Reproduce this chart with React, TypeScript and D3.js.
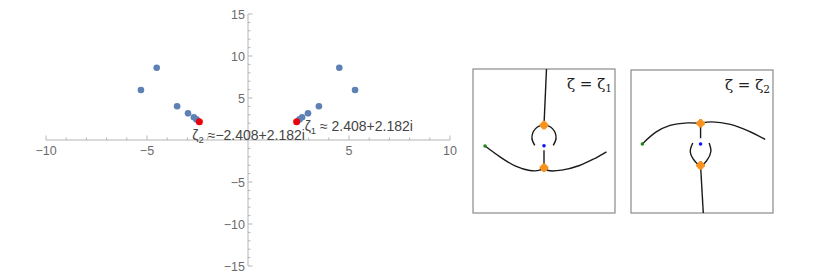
import React from 'react';
import * as d3 from 'd3';

// main plane: roots in the complex plane (right half, mirrored for the left)
const rootRe = [2.55, 2.68, 2.97, 3.51, 4.52, 5.3];
const rootIm = [2.45, 2.7, 3.17, 4.02, 8.6, 5.95];
const zeta1 = { re: 2.408, im: 2.182 };
const zeta2 = { re: -2.408, im: 2.182 };

const xMajor = [-10, -5, 5, 10];
const yMajor = [-15, -10, -5, 5, 10, 15];

// inset sketches, local coords in [-1, 1]
type Pt = [number, number];
const inset1Curves: Pt[][] = [
  [[0.035, 1.0], [0.0, 0.22]],
  [[-0.13, -0.06], [-0.17, 0.04], [-0.125, 0.165], [0.0, 0.22], [0.125, 0.165], [0.17, 0.04], [0.13, -0.06]],
  [[0.0, -0.13], [0.0, -0.37]],
  [[-0.83, -0.07], [-0.62, -0.22], [-0.4, -0.35], [-0.2, -0.41], [-0.06, -0.405], [0.0, -0.37]],
  [[0.0, -0.37], [0.06, -0.41], [0.25, -0.405], [0.5, -0.34], [0.7, -0.25], [0.88, -0.15]],
];
const inset1Cusps: Pt[] = [[0.0, 0.22], [0.0, -0.37]];
const inset1Blue: Pt = [0.0, -0.065];
const inset1Green: Pt = [-0.83, -0.07];

const inset2Curves: Pt[][] = [
  [[-0.84, -0.035], [-0.65, 0.13], [-0.45, 0.225], [-0.2, 0.26], [-0.02, 0.255]],
  [[-0.02, 0.255], [0.14, 0.275], [0.4, 0.24], [0.65, 0.15], [0.89, 0.03]],
  [[-0.02, 0.255], [-0.02, 0.045]],
  [[-0.13, -0.02], [-0.165, -0.14], [-0.105, -0.27], [-0.02, -0.335], [0.065, -0.27], [0.125, -0.14], [0.1, -0.02]],
  [[-0.02, -0.335], [0.018, -1.0]],
];
const inset2Cusps: Pt[] = [[-0.02, 0.255], [-0.02, -0.335]];
const inset2Blue: Pt = [-0.02, -0.035];
const inset2Green: Pt = [-0.84, -0.035];

const axisGray = '#b5b5b5';
const tickText = '#6b6b6b';
const blue = '#5e81b5';

const Inset: React.FC<{
  x0: number; y0: number; w: number; h: number;
  curves: Pt[][]; cusps: Pt[]; blueDot: Pt; greenDot: Pt; sub: string;
}> = ({ x0, y0, w, h, curves, cusps, blueDot, greenDot, sub }) => {
  const sx = d3.scaleLinear().domain([-1, 1]).range([x0, x0 + w]);
  const sy = d3.scaleLinear().domain([-1, 1]).range([y0 + h, y0]);
  const line = d3.line<Pt>().x(d => sx(d[0])).y(d => sy(d[1])).curve(d3.curveCatmullRom.alpha(0.5));
  const cross = d3.symbol().type(d3.symbolCross).size(42)();
  return (
    <g>
      <rect x={x0} y={y0} width={w} height={h} fill="white" stroke="#8a8a8a" strokeWidth={1.2} />
      {curves.map((c, i) => (
        <path key={i} d={line(c) || ''} fill="none" stroke="#1a1a1a" strokeWidth={1.4} />
      ))}
      {cusps.map((p, i) => (
        <g key={i}>
          <circle cx={sx(p[0])} cy={sy(p[1])} r={3.6} fill="#f7931e" />
          <path d={cross || ''} transform={`translate(${sx(p[0])},${sy(p[1])})`} fill="#f7931e" />
        </g>
      ))}
      <circle cx={sx(blueDot[0])} cy={sy(blueDot[1])} r={1.8} fill="#1010ff" />
      <circle cx={sx(greenDot[0])} cy={sy(greenDot[1])} r={1.8} fill="#1a8a1a" />
      <text x={x0 + w - 3} y={y0 + 20} textAnchor="end" fontFamily="'DejaVu Serif', 'Liberation Serif', serif"
        fontSize={15} fill="#222">
        ζ = ζ<tspan fontSize={10.5} dy={3}>{sub}</tspan>
      </text>
    </g>
  );
};

export default function App() {
  const x = d3.scaleLinear().domain([-10, 10]).range([46, 450]);
  const y = d3.scaleLinear().domain([-15, 15]).range([266, 14]);
  const xMinor = d3.range(-10, 11).filter(v => v % 5 !== 0);
  const yMinor = d3.range(-15, 16).filter(v => v % 5 !== 0);
  const font = "'Liberation Sans', Arial, sans-serif";
  const fmt = (v: number) => (v < 0 ? '\u2212' + Math.abs(v) : String(v));

  const pts = rootRe.flatMap((r, i) => [
    { re: r, im: rootIm[i] },
    { re: -r, im: rootIm[i] },
  ]);

  return (
    <svg width={830} height={276} style={{ position: 'absolute', left: 0, top: 0, background: 'white' }}>
      {/* axes */}
      <line x1={x(-10)} x2={x(10)} y1={y(0)} y2={y(0)} stroke={axisGray} strokeWidth={1} />
      <line x1={x(0)} x2={x(0)} y1={y(-15)} y2={y(15)} stroke={axisGray} strokeWidth={1} />
      {xMajor.map(v => (
        <line key={'xM' + v} x1={x(v)} x2={x(v)} y1={y(0)} y2={y(0) - 4.5} stroke={axisGray} />
      ))}
      {xMinor.map(v => (
        <line key={'xm' + v} x1={x(v)} x2={x(v)} y1={y(0)} y2={y(0) - 2.5} stroke={axisGray} />
      ))}
      {yMajor.map(v => (
        <line key={'yM' + v} x1={x(0)} x2={x(0) + 4.5} y1={y(v)} y2={y(v)} stroke={axisGray} />
      ))}
      {yMinor.map(v => (
        <line key={'ym' + v} x1={x(0)} x2={x(0) + 2.5} y1={y(v)} y2={y(v)} stroke={axisGray} />
      ))}
      {xMajor.map(v => (
        <text key={'xt' + v} x={x(v)} y={y(0) + 15} textAnchor="middle" fontFamily={font} fontSize={12.5} fill={tickText}>
          {fmt(v)}
        </text>
      ))}
      {yMajor.map(v => (
        <text key={'yt' + v} x={x(0) - 3} y={y(v) + 4.5} textAnchor="end" fontFamily={font} fontSize={12.5} fill={tickText}>
          {fmt(v)}
        </text>
      ))}

      {/* roots */}
      {pts.map((p, i) => (
        <circle key={i} cx={x(p.re)} cy={y(p.im)} r={3.3} fill={blue} />
      ))}
      <circle cx={x(zeta1.re)} cy={y(zeta1.im)} r={3.5} fill="#e8000b" />
      <circle cx={x(zeta2.re)} cy={y(zeta2.im)} r={3.5} fill="#e8000b" />

      <text x={x(zeta1.re) + 8} y={y(zeta1.im) + 9} fontFamily={font} fontSize={14} fill="#444">
        ζ<tspan fontSize={9.5} dy={3}>1</tspan><tspan dy={-3}> ≈ 2.408+2.182i</tspan>
      </text>
      <text x={x(zeta2.re) - 7} y={y(zeta2.im) + 18} fontFamily={font} fontSize={14} fill="#444">
        ζ<tspan fontSize={9.5} dy={3}>2</tspan><tspan dy={-3}> ≈−2.408+2.182i</tspan>
      </text>

      <Inset x0={473} y0={69} w={142} h={144} curves={inset1Curves} cusps={inset1Cusps}
        blueDot={inset1Blue} greenDot={inset1Green} sub="1" />
      <Inset x0={631} y0={70} w={142} h={143} curves={inset2Curves} cusps={inset2Cusps}
        blueDot={inset2Blue} greenDot={inset2Green} sub="2" />
    </svg>
  );
}
